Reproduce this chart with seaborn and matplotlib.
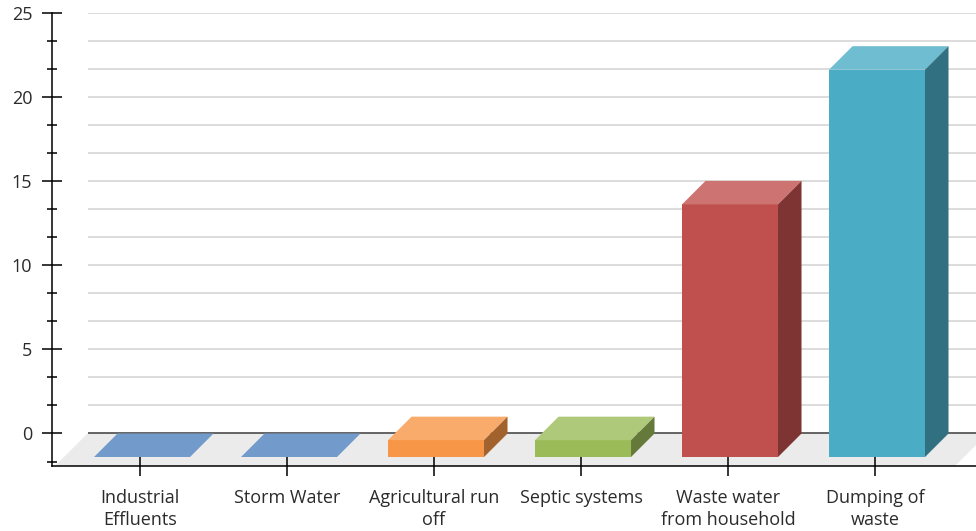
import matplotlib
matplotlib.use("Agg")
import matplotlib.pyplot as plt
import matplotlib.colors as mcolors
from matplotlib.patches import Polygon
from matplotlib.ticker import MultipleLocator, FormatStrFormatter
import pandas as pd
import seaborn as sns

# Pollution sources and their counts
sources = ["Industrial\nEffluents", "Storm Water", "Agricultural run\noff",
           "Septic systems", "Waste water\nfrom household", "Dumping of\nwaste"]
counts = [0, 0, 1, 1, 15, 23]
bar_colors = ["#4F81BD", "#4F81BD", "#F79646", "#9BBB59", "#C0504D", "#4BACC6"]

y_major_ticks = [0, 5, 10, 15, 20, 25]

df = pd.DataFrame({"source": sources, "count": counts})

sns.set_theme(style="white")
plt.rcParams["font.family"] = ["Open Sans", "DejaVu Sans"]

W, H, DPI = 976, 531, 100
fig = plt.figure(figsize=(W / DPI, H / DPI), dpi=DPI)
fig.patch.set_facecolor("white")

# axes box in pixels
left_px, right_px, top_px, bottom_px = 52, 976, 12.5, 466
ax = fig.add_axes([left_px / W, 1 - bottom_px / H,
                   (right_px - left_px) / W, (bottom_px - top_px) / H])
ax.set_facecolor("none")

xlim = (-0.599, 5.687)
ylim = (-1.93, 25)

sns.barplot(data=df, x="source", y="count", hue="source", palette=bar_colors,
            width=0.653, legend=False, ax=ax, saturation=1, zorder=3)

ax.set_xlim(*xlim)
ax.set_ylim(*ylim)

# pixel -> data conversions for the oblique depth
ppx = (right_px - left_px) / (xlim[1] - xlim[0])
ppy = (bottom_px - top_px) / (ylim[1] - ylim[0])
depth_px = 23.5
dx, dy = depth_px / ppx, depth_px / ppy
nudge = 2 / ppx


def lighten(c, f):
    r, g, b = mcolors.to_rgb(c)
    return (r + (1 - r) * f, g + (1 - g) * f, b + (1 - b) * f)


def darken(c, f):
    r, g, b = mcolors.to_rgb(c)
    return (r * f, g * f, b * f)


# floor
floor_dy = -ylim[0] * ppy
fdx = floor_dy / ppx
fl_front_left = xlim[0] + 3 / ppx
fl_front_right = xlim[1] - 21 / ppx
floor = Polygon([(fl_front_left, ylim[0]), (fl_front_right, ylim[0]),
                 (fl_front_right + fdx, 0), (fl_front_left + fdx, 0)],
                closed=True, facecolor="#EBEBEB", edgecolor="none",
                zorder=0.5, clip_on=False)
ax.add_patch(floor)

# back wall gridlines
grid_levels = [k * 5 / 3 for k in range(1, 16)]
wall_left = fl_front_left + fdx
ax.hlines(grid_levels, wall_left, xlim[1], colors="#D9D9D9", linewidth=1.3,
          zorder=1)
ax.hlines([0], wall_left, xlim[1], colors="#3A3A3A", linewidth=1.1, zorder=1.2)

# 3D bars: front face from seaborn, plus top and side faces
bars = sorted([p for p in ax.patches if p is not floor], key=lambda p: p.get_x())
for patch, color in zip(bars, bar_colors):
    x0 = patch.get_x() + nudge
    w = patch.get_width()
    h = patch.get_height()
    x1 = x0 + w
    patch.set_x(x0)
    patch.set_y(-dy)
    patch.set_linewidth(0)
    patch.set_zorder(3)
    top = Polygon([(x0, h - dy), (x1, h - dy), (x1 + dx, h), (x0 + dx, h)],
                  closed=True, facecolor=lighten(color, 0.2), edgecolor="none",
                  zorder=3.1)
    ax.add_patch(top)
    if h > 0:
        side = Polygon([(x1, -dy), (x1, h - dy), (x1 + dx, h), (x1 + dx, 0)],
                       closed=True, facecolor=darken(color, 0.65),
                       edgecolor="none", zorder=3.1)
        ax.add_patch(side)

# axes styling
for s in ("top", "right"):
    ax.spines[s].set_visible(False)
for s in ("left", "bottom"):
    ax.spines[s].set_color("black")
    ax.spines[s].set_linewidth(1.1)
    ax.spines[s].set_zorder(4)

ax.set_yticks(y_major_ticks)
ax.yaxis.set_minor_locator(MultipleLocator(5 / 3))
ax.yaxis.set_major_formatter(FormatStrFormatter("%d"))
ax.tick_params(axis="y", which="major", direction="inout", length=14.4,
               width=1.1, color="black", pad=7, labelsize=13,
               labelcolor="#2B2B2B", left=True)
ax.tick_params(axis="y", which="minor", direction="inout", length=7.9,
               width=1.1, color="black", left=True)
ax.set_xticks(range(len(sources)))
ax.set_xticklabels(sources, linespacing=1.25)
ax.tick_params(axis="x", which="major", direction="inout", length=14.4,
               width=1.1, color="black", pad=9.5, labelsize=13,
               labelcolor="#2B2B2B", bottom=True)
ax.set_xlabel("")
ax.set_ylabel("")
ax.grid(False)

fig.savefig("out.png", dpi=DPI)
